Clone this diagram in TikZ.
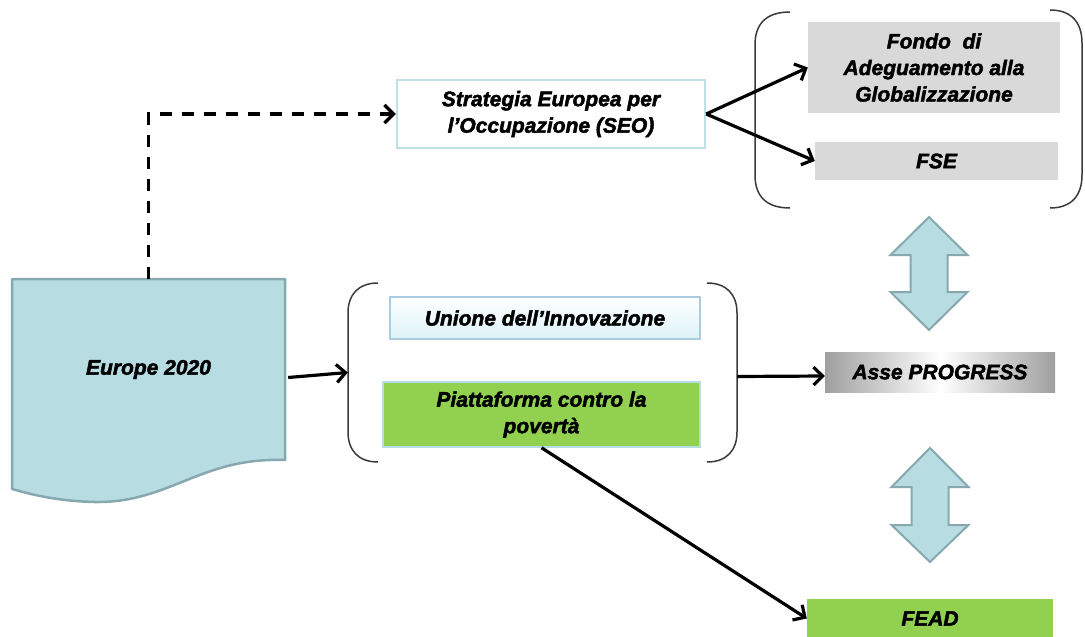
\documentclass[tikz,border=0pt]{standalone}
\usepackage{fontspec}
\setmainfont{Liberation Sans}[FakeBold=2.2]
\usetikzlibrary{arrows.meta}
\definecolor{docfill}{HTML}{B7DDE3}
\definecolor{docline}{HTML}{86A8AE}
\definecolor{seoline}{HTML}{BFE0E5}
\definecolor{greybox}{HTML}{D9D9D9}
\definecolor{greenbox}{HTML}{92D050}
\definecolor{greenline}{HTML}{B7DEE8}
\definecolor{unifill}{HTML}{DDF3F8}
\definecolor{uniline}{HTML}{A9CCE0}
\definecolor{brkline}{HTML}{3A3A3A}
\begin{document}
\begin{tikzpicture}[x=1pt,y=-1pt,
  lbl/.style={font=\fontsize{21}{26.5}\selectfont\bfseries\itshape, align=center, inner sep=0pt},
  conn/.style={line width=3.2pt, -{Straight Barb[length=9pt,width=18pt,line width=3.2pt]}},
  brk/.style={line width=1.5pt, draw=brkline},
  dbl/.style={fill=docfill, draw=docline, line width=2pt, line join=miter}]
\useasboundingbox (0,0) rectangle (1085,637);

% Europe 2020 document shape
\draw[fill=docfill, draw=docline, line width=2.5pt, line join=round]
  (12,279) -- (285,279) -- (285,460)
  .. controls (200,457) and (170,503) .. (95,502)
  .. controls (55,501) and (30,494) .. (12,489) -- cycle;
\node[lbl, minimum width=273pt, minimum height=181pt] (europe) at (148.5,369.5) {Europe 2020};

% SEO
\node[lbl, draw=seoline, line width=2.5pt, fill=white, minimum width=308pt, minimum height=68pt] (seo) at (551,114) {Strategia Europea per\\l'Occupazione (SEO)};

% Right top group
\node[lbl, fill=greybox, minimum width=252pt, minimum height=91pt] (fondo) at (934,67.5) {Fondo\ \ di\\Adeguamento alla\\Globalizzazione};
\node[lbl, fill=greybox, minimum width=243pt, minimum height=38pt] (fse) at (936.5,161) {FSE};
\node[minimum width=327pt, minimum height=198pt] (grp1) at (918.5,110) {};
\draw[brk] (790,12) .. controls (765,12) and (755,25) .. (755,45) -- (755,175) .. controls (755,195) and (765,208) .. (790,208);
\draw[brk] (1050,10) .. controls (1072,10) and (1082,23) .. (1082,43) -- (1082,175) .. controls (1082,195) and (1072,208) .. (1050,208);

% Middle group
\node[lbl, draw=uniline, line width=1.5pt, top color=white, bottom color=unifill, minimum width=310pt, minimum height=42pt] (unione) at (545,318) {Unione dell'Innovazione};
\node[lbl, draw=greenline, line width=1.5pt, fill=greenbox, minimum width=317pt, minimum height=65pt] (piatt) at (541.5,414.5) {Piattaforma contro la\\povertà};
\node[minimum width=389pt, minimum height=179pt] (grp2) at (542.5,372.5) {};
\draw[brk] (378,283) .. controls (358,283) and (348,295) .. (348,313) -- (348,432) .. controls (348,450) and (358,462) .. (378,462);
\draw[brk] (707,283) .. controls (727,283) and (737,295) .. (737,313) -- (737,432) .. controls (737,450) and (727,462) .. (707,462);

% Asse PROGRESS
\node[lbl, left color=gray!75, right color=gray!75, middle color=white, minimum width=230pt, minimum height=40pt] (asse) at (940,372) {Asse PROGRESS};

% FEAD
\node[lbl, fill=greenbox, minimum width=246pt, minimum height=39pt] (fead) at (930,618.5) {FEAD};

% Double arrows
\draw[dbl] (929,217) -- (967.5,255) -- (947.5,255) -- (947.5,292) -- (967.5,292) -- (929,330)
  -- (890.5,292) -- (910.5,292) -- (910.5,255) -- (890.5,255) -- cycle;
\draw[dbl] (930,448) -- (968.5,487) -- (948.5,487) -- (948.5,525) -- (968.5,525) -- (930,562)
  -- (891.5,525) -- (911.5,525) -- (911.5,487) -- (891.5,487) -- cycle;

% Connectors
\draw[line width=3.2pt, dash pattern=on 12pt off 10pt, -{Straight Barb[length=9pt,width=18pt,line width=3.2pt]}]
  (europe.north) |- (seo.west);
\draw[conn] (seo.east) -- (fondo.west);
\draw[conn] (seo.east) -- (fse.west);
\draw[conn] ([xshift=3pt,yshift=-8pt]europe.east) -- (grp2.west);
\draw[conn] ([yshift=-4pt]grp2.east) -- ([yshift=-4pt]asse.west);
\draw[conn] (piatt.south) -- (fead.west);
\end{tikzpicture}
\end{document}
